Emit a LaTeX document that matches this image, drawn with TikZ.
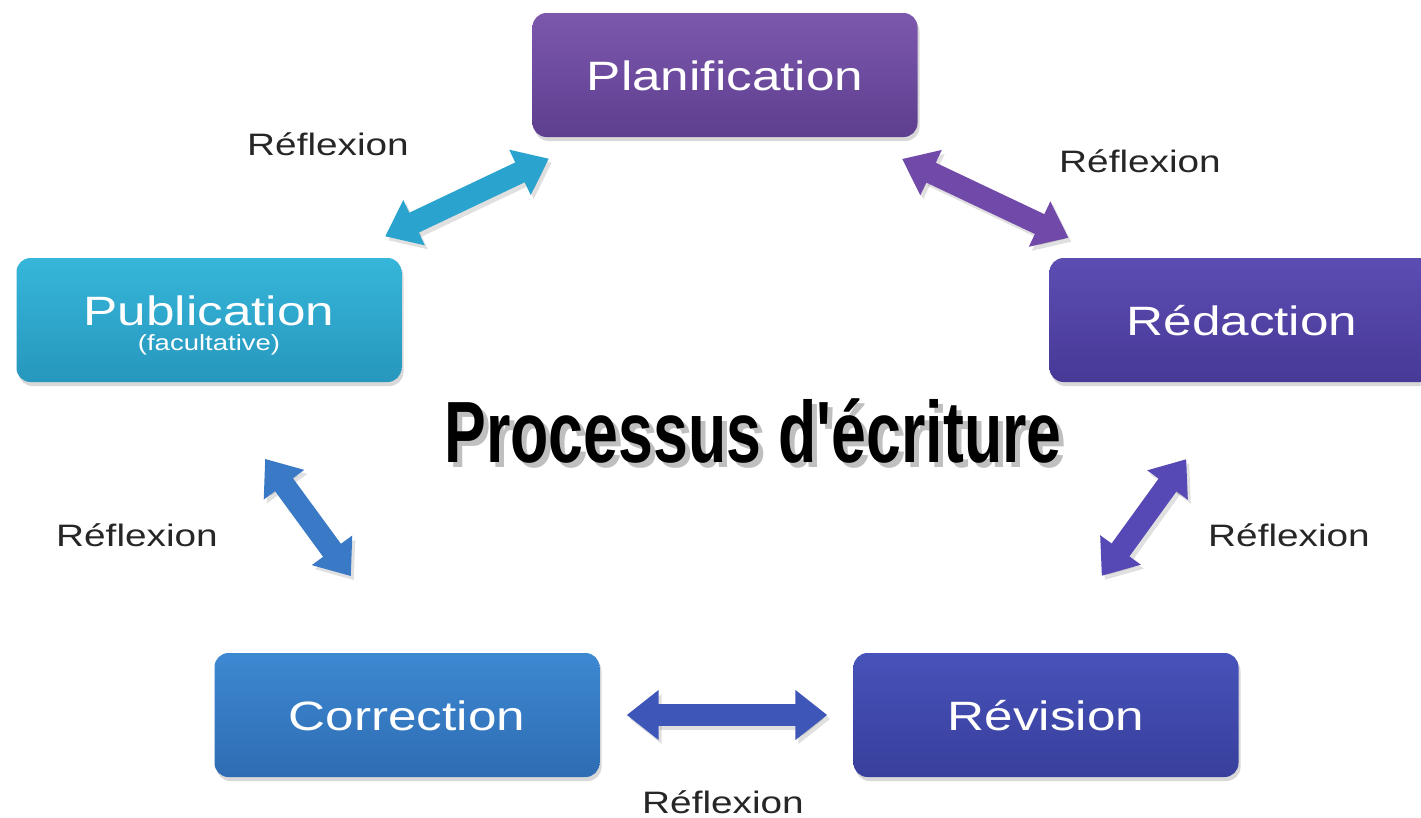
\documentclass[tikz,border=0pt]{standalone}
\usepackage{fontspec}
\setmainfont{Liberation Sans}
\newfontfamily\titlefont{Liberation Sans}[Ligatures=TeXOff]
\usetikzlibrary{arrows.meta,shadows}

\definecolor{plantop}{HTML}{7C58AD}
\definecolor{planbot}{HTML}{5E3E8F}
\definecolor{pubtop}{HTML}{36B6DA}
\definecolor{pubbot}{HTML}{2797BD}
\definecolor{redtop}{HTML}{5C4DB3}
\definecolor{redbot}{HTML}{473996}
\definecolor{cortop}{HTML}{3D89D2}
\definecolor{corbot}{HTML}{2E6CB3}
\definecolor{revtop}{HTML}{4753BA}
\definecolor{revbot}{HTML}{383F9C}
\definecolor{arrcyan}{HTML}{2BA3CF}
\definecolor{arrpurple}{HTML}{7049A9}
\definecolor{arrblue}{HTML}{3A79C6}
\definecolor{arrviolet}{HTML}{5648B5}
\definecolor{arrindigo}{HTML}{3F56B9}

\newcommand{\wide}[1]{\scalebox{1.25}[1]{#1}}

\tikzset{
  stage/.style={rounded corners=14pt, minimum width=385pt, minimum height=124pt,
    inner sep=0pt, text=white, font=\fontsize{41}{41}\selectfont,
    text height=30pt, text depth=0pt,
    drop shadow={shadow xshift=2pt, shadow yshift=-4pt, opacity=0.3}},
  link/.style={line width=22pt,
    {Triangle[width=48pt,length=32pt]}-{Triangle[width=48pt,length=32pt]}},
  linkshadow/.style={link, draw=black, fill=black, opacity=0.12},
  note/.style={font=\fontsize{31}{31}\selectfont, text=black!85, anchor=base, inner sep=0pt},
  heading/.style={font=\titlefont\bfseries\fontsize{87}{87}\selectfont, anchor=base, inner sep=0pt}
}

\begin{document}
\begin{tikzpicture}[x=1pt,y=-1pt]

	\useasboundingbox (0,0) rectangle (1421,817);
	\clip (0,0) rectangle (1421,817);
	\fill [white] (0,0) rectangle (1421,817);

	% les cinq etapes
	\node [stage, top color=plantop, bottom color=planbot] (plan) at (725,75) {\wide{Planification}};
	\node [stage, top color=redtop, bottom color=redbot] (red) at (1242,320) {\wide{Rédaction}};
	\node [stage, top color=revtop, bottom color=revbot] (rev) at (1046,715) {\wide{Révision}};
	\node [stage, top color=cortop, bottom color=corbot] (cor) at (407,715) {\wide{Correction}};
	\node [stage, top color=pubtop, bottom color=pubbot] (pub) at (209,320) {};
	\node [text=white, font=\fontsize{41}{41}\selectfont, anchor=base, inner sep=0pt] (pubname) at (209,325) {\wide{Publication}};
	\node [text=white, font=\fontsize{22}{22}\selectfont, anchor=base, inner sep=0pt] (pubnote) at (209,350) {\wide{(facultative)}};

	% titre
	\node [heading, text=black!25] (titleshadow) at (758,467) {\scalebox{0.72}[1]{Processus d'écriture}};
	\node [heading] (title) at (753,462) {\scalebox{0.72}[1]{Processus d'écriture}};

	% ombres des fleches
	\draw [linkshadow, shorten <=195pt, shorten >=195pt] ([shift={(3,4)}]pub.center) -- ([shift={(3,4)}]plan.center);
	\draw [linkshadow, shorten <=196pt, shorten >=192pt] ([shift={(3,4)}]plan.center) -- ([shift={(3,4)}]red.center);
	\draw [linkshadow, shorten <=95pt, shorten >=95pt] ([shift={(3,4)}]red.south) -- ([shift={(3,4)}]rev.north);
	\draw [linkshadow, shorten <=26pt, shorten >=27pt] ([shift={(3,4)}]rev.west) -- ([shift={(3,4)}]cor.east);
	\draw [linkshadow, shorten <=95pt, shorten >=95pt] ([shift={(3,4)}]cor.north) -- ([shift={(3,4)}]pub.south);

	% fleches
	\draw [link, draw=arrcyan, fill=arrcyan, shorten <=195pt, shorten >=195pt] (pub.center) -- (plan.center);
	\draw [link, draw=arrpurple, fill=arrpurple, shorten <=196pt, shorten >=192pt] (plan.center) -- (red.center);
	\draw [link, draw=arrviolet, fill=arrviolet, shorten <=95pt, shorten >=95pt] (red.south) -- (rev.north);
	\draw [link, draw=arrindigo, fill=arrindigo, shorten <=26pt, shorten >=27pt] (rev.west) -- (cor.east);
	\draw [link, draw=arrblue, fill=arrblue, shorten <=95pt, shorten >=95pt] (cor.north) -- (pub.south);

	% reflexion
	\node [note] (refA) at (328,155) {\wide{Réflexion}};
	\node [note] (refB) at (1140,172) {\wide{Réflexion}};
	\node [note] (refC) at (1289,546) {\wide{Réflexion}};
	\node [note] (refD) at (723,813) {\wide{Réflexion}};
	\node [note] (refE) at (137,546) {\wide{Réflexion}};
\end{tikzpicture}
\end{document}
